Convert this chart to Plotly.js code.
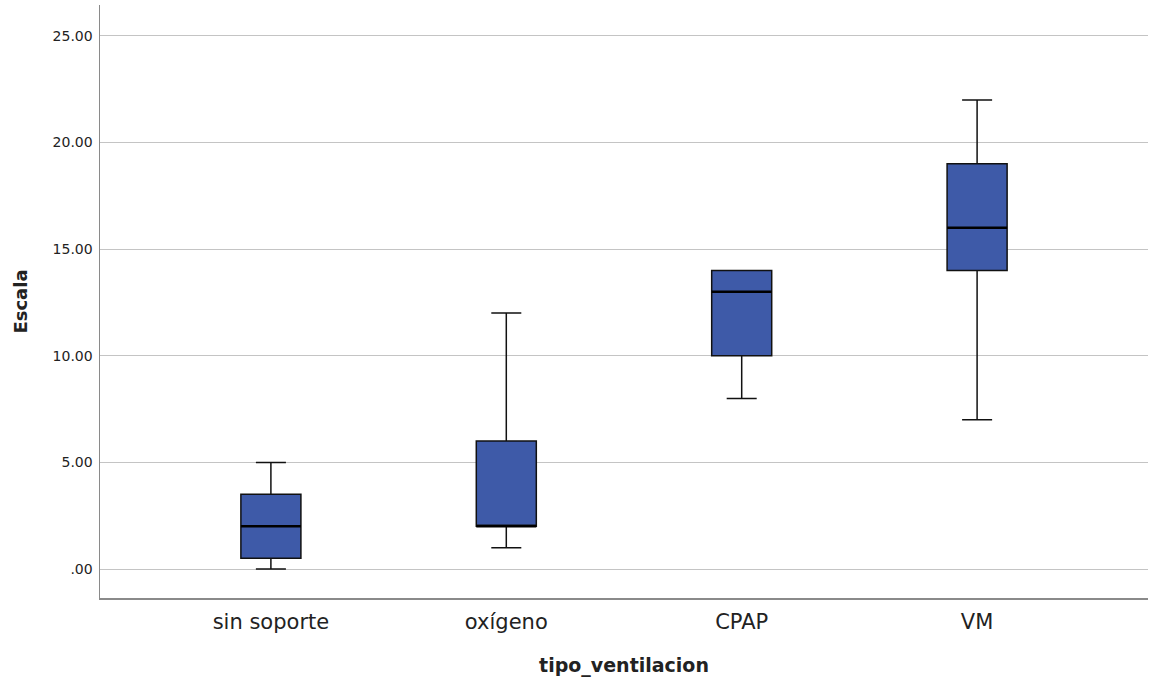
<!DOCTYPE html>
<html>
<head>
<meta charset="utf-8">
<script src="https://cdn.plot.ly/plotly-3.0.1.min.js"></script>
<style>html,body{margin:0;padding:0;background:#fff;}</style>
</head>
<body>
<div id="chart" style="width:1151px;height:679px;"></div>
<script>
const categories = ["sin soporte", "oxígeno", "CPAP", "VM"];
const minValues = [0, 1, 8, 7];
const q1Values = [0.5, 2, 10, 14];
const medianValues = [2, 2, 13, 16];
const q3Values = [3.5, 6, 14, 19];
const maxValues = [5, 12, 14, 22];
const yTickValues = [0, 5, 10, 15, 20, 25];
const yTickLabels = [".00", "5.00", "10.00", "15.00", "20.00", "25.00"];

const boxTrace = {
  type: "box",
  x: categories,
  q1: q1Values,
  median: medianValues,
  q3: q3Values,
  lowerfence: minValues,
  upperfence: maxValues,
  fillcolor: "#3E5AA8",
  line: {color: "#111111", width: 1.5},
  whiskerwidth: 0.5,
  boxpoints: false,
  hoverinfo: "skip",
  showlegend: false
};
const medianTrace = {
  type: "box",
  x: categories,
  q1: medianValues,
  median: medianValues,
  q3: medianValues,
  lowerfence: medianValues,
  upperfence: medianValues,
  fillcolor: "rgba(0,0,0,0)",
  line: {color: "#000000", width: 2.5},
  whiskerwidth: 0,
  boxpoints: false,
  hoverinfo: "skip",
  showlegend: false
};

const layout = {
  width: 1151,
  height: 679,
  margin: {l: 100, r: 3, t: 5, b: 81},
  paper_bgcolor: "#ffffff",
  plot_bgcolor: "#ffffff",
  boxmode: "overlay",
  boxgap: 0.745,
  boxgroupgap: 0,
  showlegend: false,
  font: {family: "DejaVu Sans, Liberation Sans, sans-serif", color: "#222222"},
  xaxis: {
    type: "category",
    range: [-0.726, 3.726],
    showgrid: false,
    zeroline: false,
    showline: true,
    linecolor: "#8a8a8a",
    linewidth: 1.5,
    ticks: "",
    ticklabelstandoff: 4,
    tickfont: {size: 21, color: "#222222"},
    title: {text: "<b>tipo_ventilacion</b>", font: {size: 19, color: "#222222"}, standoff: 26}
  },
  yaxis: {
    range: [-1.36, 26.45],
    tickvals: yTickValues,
    ticktext: yTickLabels,
    showgrid: true,
    gridcolor: "#c4c4c4",
    gridwidth: 1,
    zeroline: false,
    showline: true,
    linecolor: "#8a8a8a",
    linewidth: 1.5,
    ticks: "",
    ticklabelstandoff: 3,
    tickfont: {size: 14, color: "#222222"},
    title: {text: "<b>Escala</b>", font: {size: 18, color: "#222222"}, standoff: 20}
  }
};

Plotly.newPlot("chart", [boxTrace, medianTrace], layout, {displayModeBar: false, staticPlot: true});
</script>
</body>
</html>
